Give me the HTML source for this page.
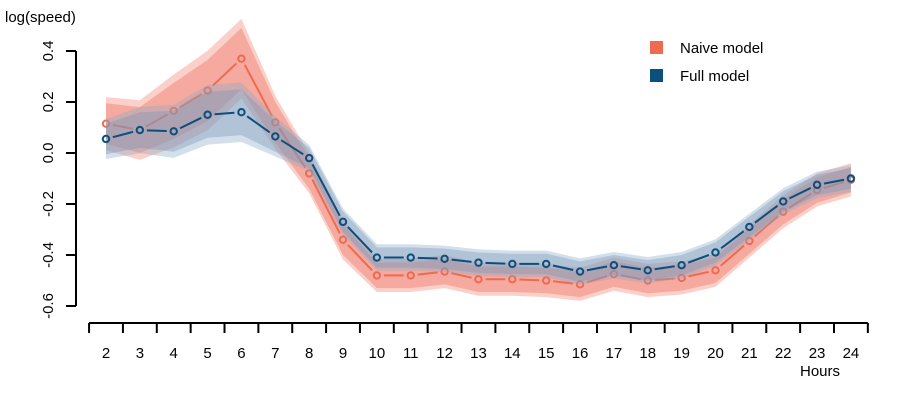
<!DOCTYPE html>
<html><head><meta charset="utf-8"><style>
body{margin:0;background:#fff;}
svg{display:block;font-family:"Liberation Sans",Arial,sans-serif;}
</style></head><body>
<svg id="chart" width="900" height="400">
<text x="5" y="22" font-size="15">log(speed)</text>
<text x="800" y="376" font-size="15">Hours</text>
<g>
<rect x="650" y="41" width="13" height="13" fill="#ef6a50"/>
<text x="680" y="53" font-size="15">Naive model</text>
<rect x="650" y="69" width="13" height="13" fill="#0b4f7c"/>
<text x="680" y="81" font-size="15">Full model</text>
</g>
</svg>
<script>
const hours=[2,3,4,5,6,7,8,9,10,11,12,13,14,15,16,17,18,19,20,21,22,23,24];
const naive=[0.115,0.09,0.165,0.245,0.37,0.12,-0.08,-0.34,-0.48,-0.48,-0.465,-0.495,-0.495,-0.5,-0.515,-0.475,-0.5,-0.49,-0.46,-0.345,-0.23,-0.145,-0.105];
const full=[0.055,0.09,0.085,0.15,0.16,0.065,-0.02,-0.27,-0.41,-0.41,-0.415,-0.43,-0.435,-0.435,-0.465,-0.44,-0.46,-0.44,-0.39,-0.29,-0.19,-0.125,-0.1];
const naiveHW=[0.08,0.09,0.11,0.12,0.12,0.08,0.06,0.06,0.05,0.05,0.05,0.05,0.05,0.05,0.05,0.05,0.05,0.05,0.05,0.05,0.05,0.05,0.05];
const fullHW=[0.06,0.07,0.08,0.09,0.09,0.06,0.04,0.04,0.04,0.04,0.04,0.04,0.04,0.04,0.04,0.04,0.04,0.04,0.04,0.04,0.04,0.04,0.04];
const yTicks=[0.4,0.2,0.0,-0.2,-0.4,-0.6];
const yTickLabels=["0.4","0.2","0.0","-0.2","-0.4","-0.6"];

const NS="http://www.w3.org/2000/svg";
const svg=document.getElementById('chart');
const xs=h=>106+(h-2)*33.86;
const ys=v=>153-v*255;
function mk(tag,attrs,parent){const e=document.createElementNS(NS,tag);for(const k in attrs)e.setAttribute(k,attrs[k]);(parent||svg).appendChild(e);return e;}

const yAxis=mk('g',{});


mk('line',{x1:76,x2:76,y1:ys(yTicks[0]),y2:ys(yTicks[yTicks.length-1]),stroke:'#000','stroke-width':2},yAxis);
yTicks.forEach((t,i)=>{
  mk('line',{x1:66,x2:76,y1:ys(t),y2:ys(t),stroke:'#000','stroke-width':2},yAxis);
  const tx=mk('text',{x:0,y:0,'font-size':15,'text-anchor':'middle',transform:`translate(53,${ys(t)}) rotate(-90)`},yAxis);
  tx.textContent=yTickLabels[i];
  
  
});
const xAxis=mk('g',{});


const x0=xs(hours[0]-0.5),x1=xs(hours[hours.length-1]+0.5);
mk('line',{x1:x0,x2:x1,y1:323,y2:323,stroke:'#000','stroke-width':2},xAxis);
for(let i=0;i<=hours.length;i++){const x=xs(hours[0]-0.5+i);mk('line',{x1:x,x2:x,y1:323,y2:333,stroke:'#000','stroke-width':2},xAxis);}
hours.forEach(h=>{
  const t=mk('text',{x:xs(h),y:358,'font-size':15,'text-anchor':'middle'},xAxis);
  t.textContent=h;
  
  
});

function band(vals,hw,mult,fill,name){
  let d='';
  vals.forEach((v,i)=>{d+=(i?'L':'M')+xs(hours[i])+','+ys(v+hw[i]*mult);});
  for(let i=vals.length-1;i>=0;i--)d+='L'+xs(hours[i])+','+ys(vals[i]-hw[i]*mult);
  const p=mk('path',{d:d+'Z',fill:fill});
  
  
}
function series(vals,color,name){
  const g=mk('g',{});
  
  
  for(let i=0;i<vals.length-1;i++){
    const ax=xs(hours[i]),ay=ys(vals[i]),bx=xs(hours[i+1]),by=ys(vals[i+1]);
    const L=Math.hypot(bx-ax,by-ay),g2=7/L;
    mk('line',{x1:ax+(bx-ax)*g2,y1:ay+(by-ay)*g2,x2:bx-(bx-ax)*g2,y2:by-(by-ay)*g2,stroke:color,'stroke-width':2},g);
  }
  vals.forEach((v,i)=>{
    const c=mk('circle',{cx:xs(hours[i]),cy:ys(v),r:3.2,fill:'none',stroke:color,'stroke-width':2},g);
    
    
  });
}
band(naive,naiveHW,1.3,'rgba(242,120,100,0.35)','naive-outer-band');
band(naive,naiveHW,1,'rgba(238,100,80,0.35)','naive-inner-band');
series(naive,'#ee6a50','naive-line');
band(full,fullHW,1.3,'rgba(140,170,200,0.38)','full-outer-band');
band(full,fullHW,1,'rgba(120,150,185,0.38)','full-inner-band');
series(full,'#0b4f7c','full-line');
</script>
</body></html>
